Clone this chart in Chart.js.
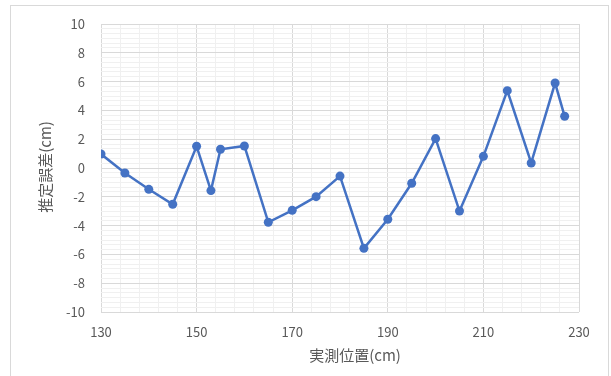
<!DOCTYPE html>
<html>
<head>
<meta charset="utf-8">
<script src="https://cdn.jsdelivr.net/npm/chart.js@4/dist/chart.umd.min.js"></script>
<style>
  html, body { margin: 0; padding: 0; background: #fff; overflow: hidden; }
  #marco {
    position: absolute; left: 10px; top: 5px; width: 597px; height: 380px;
    border: 1px solid #d9d9d9; pointer-events: none;
  }
  canvas { position: absolute; left: 0; top: 0; }
</style>
</head>
<body>
<canvas id="grafico" width="611" height="376"></canvas>
<div id="marco"></div>
<script>
// Datos
const posiciones = [130, 135, 140, 145, 150, 153, 155, 160, 165, 170, 175, 180, 185, 190, 195, 200, 205, 210, 215, 220, 225, 227];
const errores = [0.97, -0.35, -1.48, -2.52, 1.51, -1.57, 1.3, 1.53, -3.77, -2.94, -1.99, -0.56, -5.58, -3.56, -1.06, 2.04, -2.99, 0.81, 5.37, 0.35, 5.9, 3.59];

// Etiquetas de los ejes (marcas principales)
const etiquetasX = [130, 150, 170, 190, 210, 230];
const etiquetasY = [-10, -8, -6, -4, -2, 0, 2, 4, 6, 8, 10];
const divisionesX = 5; // líneas secundarias entre principales
const divisionesY = 6;

const colorTexto = '#595959';
const colorPrincipal = '#d9d9d9';
const colorSecundario = '#f0f0f0';
const fuente = '"Noto Sans CJK JP", "Noto Sans", sans-serif';

// Construye todas las marcas (principales + secundarias)
function construirMarcas(principales, divisiones) {
  const marcas = [];
  for (let i = 0; i < principales.length - 1; i++) {
    const paso = (principales[i + 1] - principales[i]) / divisiones;
    for (let j = 0; j < divisiones; j++) {
      marcas.push({ value: principales[i] + paso * j, major: j === 0 });
    }
  }
  marcas.push({ value: principales[principales.length - 1], major: true });
  return marcas;
}
const marcasX = construirMarcas(etiquetasX, divisionesX);
const marcasY = construirMarcas(etiquetasY, divisionesY);

function esPrincipal(lista, valor) {
  return lista.some(v => Math.abs(v - valor) < 1e-6);
}

// Títulos de los ejes
const titulosEjes = {
  id: 'titulosEjes',
  afterDraw(chart) {
    const ctx = chart.ctx;
    ctx.save();
    ctx.fillStyle = colorTexto;
    ctx.font = '15px ' + fuente;
    ctx.textAlign = 'center';
    ctx.textBaseline = 'middle';
    ctx.fillText('実測位置(cm)', 355, 355);
    ctx.translate(45, 167);
    ctx.rotate(-Math.PI / 2);
    ctx.fillText('推定誤差(cm)', 0, 0);
    ctx.restore();
  }
};

new Chart(document.getElementById('grafico'), {
  type: 'line',
  data: {
    datasets: [{
      data: posiciones.map((x, i) => ({ x: x, y: errores[i] })),
      borderColor: '#4472C4',
      backgroundColor: '#4472C4',
      borderWidth: 2.5,
      pointRadius: 4.5,
      pointBorderWidth: 0,
      tension: 0
    }]
  },
  options: {
    responsive: false,
    animation: false,
    devicePixelRatio: 1,
    layout: { padding: { top: 24, right: 32, left: 0, bottom: 0 } },
    plugins: { legend: { display: false }, tooltip: { enabled: false } },
    scales: {
      x: {
        type: 'linear',
        min: etiquetasX[0],
        max: etiquetasX[etiquetasX.length - 1],
        afterBuildTicks: s => { s.ticks = marcasX.map(m => ({ value: m.value })); },
        afterFit: s => { s.height = 64; },
        grid: {
          drawTicks: false,
          color: c => (c.tick && esPrincipal(etiquetasX, c.tick.value)) ? colorPrincipal : colorSecundario,
          lineWidth: 1
        },
        border: { display: false },
        ticks: {
          autoSkip: false,
          maxRotation: 0,
          padding: 12,
          color: colorTexto,
          font: { family: fuente, size: 13 },
          callback: v => esPrincipal(etiquetasX, v) ? String(Math.round(v)) : ''
        }
      },
      y: {
        min: etiquetasY[0],
        max: etiquetasY[etiquetasY.length - 1],
        afterBuildTicks: s => { s.ticks = marcasY.map(m => ({ value: m.value })); },
        afterFit: s => { s.width = 101; },
        grid: {
          drawTicks: false,
          color: c => (c.tick && esPrincipal(etiquetasY, c.tick.value)) ? colorPrincipal : colorSecundario,
          lineWidth: 1
        },
        border: { display: false },
        ticks: {
          autoSkip: false,
          padding: 16,
          color: colorTexto,
          font: { family: fuente, size: 13 },
          callback: v => esPrincipal(etiquetasY, v) ? String(Math.round(v)) : ''
        }
      }
    }
  },
  plugins: [titulosEjes]
});
</script>
</body>
</html>
